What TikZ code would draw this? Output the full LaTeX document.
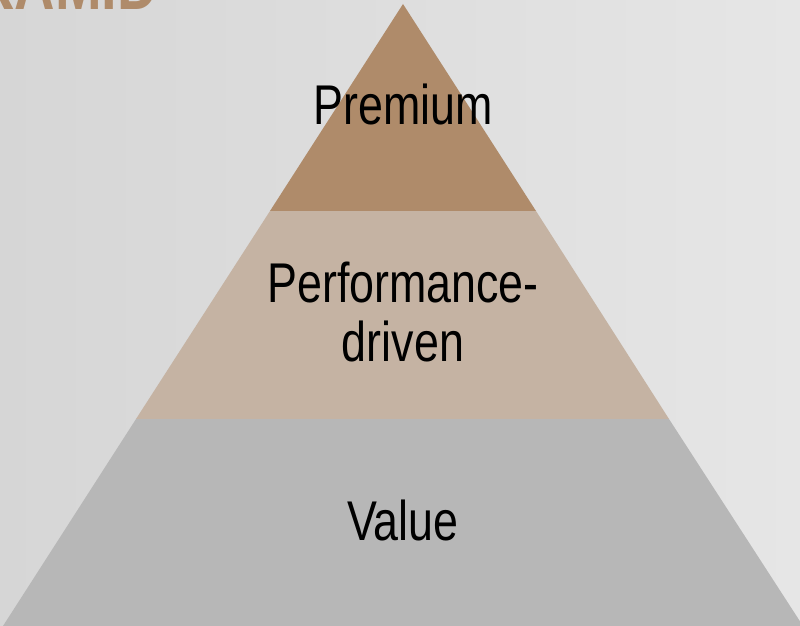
\documentclass[tikz,border=0pt]{standalone}
\usepackage{fontspec}
\setmainfont{Liberation Sans}[FakeStretch=0.8]
\definecolor{bgl}{HTML}{D6D6D6}
\definecolor{bgr}{HTML}{E6E6E6}
\definecolor{tiertop}{HTML}{AF8B6A}
\definecolor{tiermid}{HTML}{C5B3A3}
\definecolor{tierbot}{HTML}{B7B7B7}
\begin{document}
\begin{tikzpicture}[x=1pt,y=1pt,
  tierlabel/.style={font=\fontsize{56}{60}\selectfont, text=black, inner sep=0, anchor=base, align=center}]
\useasboundingbox (0,0) rectangle (800,626);
\shade[left color=bgl, right color=bgr] (0,0) rectangle (800,626);
\begin{scope}
\clip (0,0) rectangle (800,626);
\node[anchor=base east, font=\bfseries\fontsize{70}{70}\selectfont, text=tiertop, inner sep=0] (title) at (158,616) {PYRAMID};
\fill[tierbot] (3,0) -- (136,207) -- (669,207) -- (803,0) -- cycle;
\fill[tiermid] (136,207) -- (270,415) -- (536,415) -- (669,207) -- cycle;
\fill[tiertop] (270,415) -- (403,622) -- (536,415) -- cycle;
\end{scope}
\node[tierlabel] (premium) at (403,501) {Premium};
\node[tierlabel] (perf) at (403,323) {Performance-};
\node[tierlabel] (driven) at (403,264) {driven};
\node[tierlabel] (value) at (403,85) {Value};
\end{tikzpicture}
\end{document}
